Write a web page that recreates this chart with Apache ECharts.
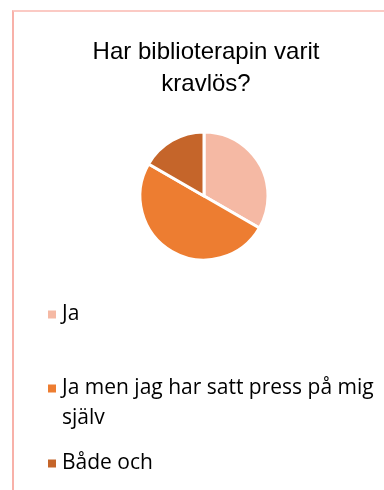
<!DOCTYPE html>
<html>
<head>
<meta charset="utf-8">
<script src="https://cdn.jsdelivr.net/npm/echarts@6/dist/echarts.min.js"></script>
<style>
  html, body { margin: 0; padding: 0; background: #fff; }
  #wrap { position: relative; width: 384px; height: 490px; overflow: hidden; }
  #chart { position: absolute; left: 0; top: 0; width: 384px; height: 490px; }
  #frame { position: absolute; left: 12px; top: 10px; width: 400px; height: 500px;
           border-left: 2px solid #F8B1A9; border-top: 2px solid #FBCAC4;
           box-sizing: border-box; pointer-events: none; }
</style>
</head>
<body>
<div id="wrap">
  <div id="chart"></div>
  <div id="frame"></div>
</div>
<script>
const titleText = 'Har biblioterapin varit\nkravlös?';
const categories = ['Ja', 'Ja men jag har satt press på mig själv', 'Både och'];
const values = [2, 3, 1];
const colors = ['#F5B9A4', '#ED7D31', '#C5652A'];

const chart = echarts.init(document.getElementById('chart'));

const legendTops = [299.5, 343.5, 448.5];
const legends = categories.map((name, i) => ({
  data: [name],
  orient: 'vertical',
  left: 46,
  top: legendTops[i],
  padding: 0,
  icon: 'rect',
  itemWidth: 10,
  itemHeight: 10,
  selectedMode: false,
  // multi-line item: keep the marker beside the first line
  formatter: i === 1 ? (n => '\n' + n) : '{name}',
  textStyle: {
    fontFamily: 'Open Sans',
    fontSize: 21,
    color: '#000',
    lineHeight: 30,
    width: 335,
    overflow: 'break'
  }
}));

chart.setOption({
  animation: false,
  title: {
    text: titleText,
    left: 206,
    top: 36,
    padding: 0,
    textAlign: 'center',
    textStyle: {
      fontFamily: 'Liberation Sans',
      fontSize: 24,
      fontWeight: 'normal',
      color: '#000',
      lineHeight: 32
    }
  },
  color: colors,
  legend: legends,
  series: [{
    type: 'pie',
    center: [204, 196],
    radius: 64,
    startAngle: 90,
    clockwise: true,
    label: { show: false },
    labelLine: { show: false },
    emphasis: { disabled: true },
    itemStyle: { borderColor: '#fff', borderWidth: 3 },
    data: categories.map((name, i) => ({ name: name, value: values[i] }))
  }]
});
</script>
</body>
</html>
